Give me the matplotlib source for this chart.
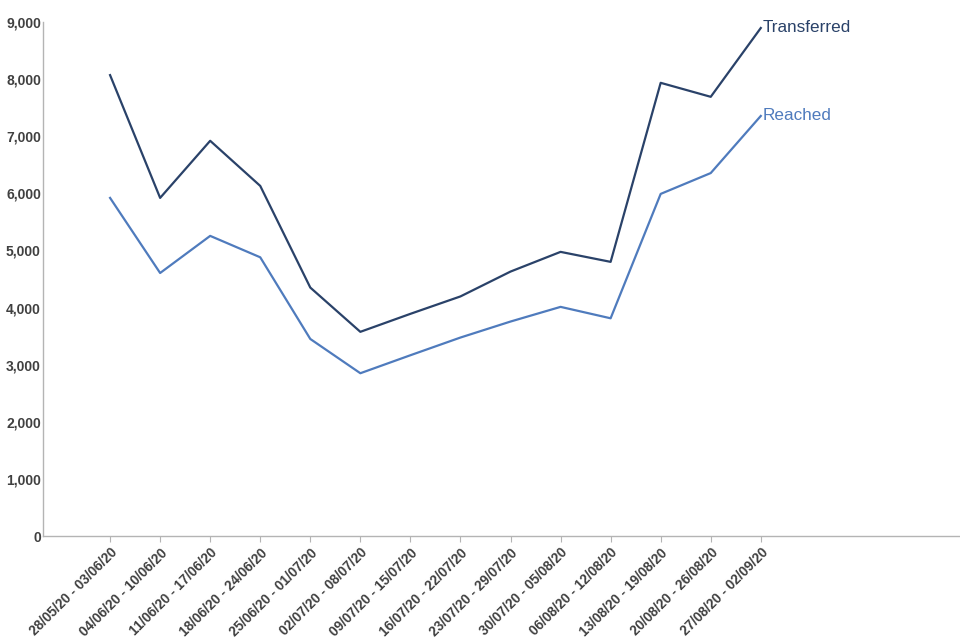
import matplotlib.pyplot as plt
from matplotlib.ticker import FuncFormatter

plt.rcParams['font.family'] = ['Liberation Sans', 'DejaVu Sans']

weeks = [
    '28/05/20 - 03/06/20', '04/06/20 - 10/06/20', '11/06/20 - 17/06/20',
    '18/06/20 - 24/06/20', '25/06/20 - 01/07/20', '02/07/20 - 08/07/20',
    '09/07/20 - 15/07/20', '16/07/20 - 22/07/20', '23/07/20 - 29/07/20',
    '30/07/20 - 05/08/20', '06/08/20 - 12/08/20', '13/08/20 - 19/08/20',
    '20/08/20 - 26/08/20', '27/08/20 - 02/09/20',
]
transferred = [8070, 5920, 6920, 6130, 4350, 3575, 3890, 4195, 4630, 4975,
               4800, 7935, 7690, 8895]
reached = [5920, 4605, 5255, 4880, 3450, 2850, 3165, 3475, 3755, 4012,
           3812, 5990, 6355, 7355]

dark = '#2a4269'
light = '#4f7bbd'
grey_txt = '#404040'
axis_col = '#b4b4b4'

fig = plt.figure(figsize=(9.6, 6.4), dpi=100)
ax = fig.add_axes([43 / 960, 104 / 640, 916 / 960, 514 / 640])

x = list(range(len(weeks)))
ax.plot(x, transferred, color=dark, lw=1.6)
ax.plot(x, reached, color=light, lw=1.6)

# end-of-line labels
ax.annotate('Transferred', (x[-1], transferred[-1]), xytext=(1, 0),
            textcoords='offset points', color=dark, fontsize=12.3,
            ha='left', va='center')
ax.annotate('Reached', (x[-1], reached[-1]), xytext=(1, 0),
            textcoords='offset points', color=light, fontsize=12.3,
            ha='left', va='center')

ax.set_xlim(-1.34, 16.96)
ax.set_ylim(0, 9000)
ax.set_yticks(range(0, 9001, 1000))
ax.yaxis.set_major_formatter(FuncFormatter(lambda v, p: f'{int(v):,}'))
ax.set_xticks(x)
ax.set_xticklabels(weeks, rotation=45, ha='right', rotation_mode='anchor')

for lab in ax.get_xticklabels():
    lab.set_fontsize(9.8)
    lab.set_fontweight('bold')
    lab.set_color(grey_txt)
for lab in ax.get_yticklabels():
    lab.set_fontsize(10)
    lab.set_fontweight('bold')
    lab.set_color(grey_txt)

ax.tick_params(axis='y', length=0, pad=1.5)
ax.tick_params(axis='x', length=4, color=axis_col, pad=3)

for side in ['top', 'right']:
    ax.spines[side].set_visible(False)
for side in ['left', 'bottom']:
    ax.spines[side].set_color(axis_col)
    ax.spines[side].set_linewidth(1)

plt.savefig('out.png', dpi=100)
